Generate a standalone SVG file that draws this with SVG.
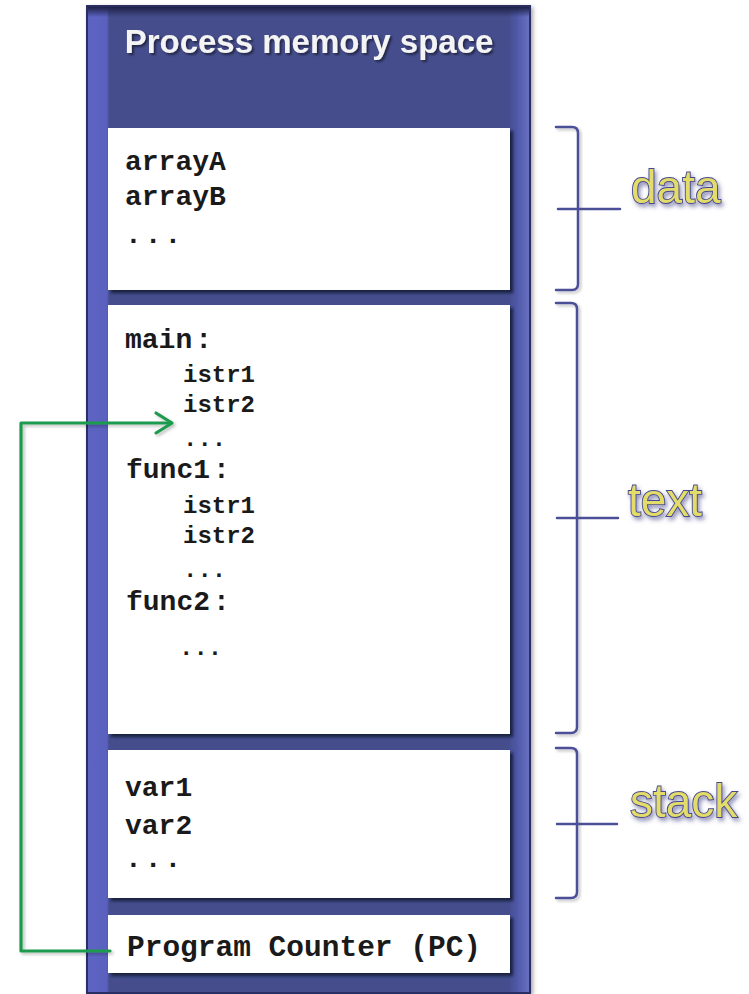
<svg xmlns="http://www.w3.org/2000/svg" width="749" height="994" viewBox="0 0 749 994">
<defs>
<filter id="boxsh" x="-5%" y="-5%" width="115%" height="115%"><feDropShadow dx="3" dy="3" stdDeviation="1.5" flood-color="#101330" flood-opacity="0.85"/></filter>
<filter id="panelsh" x="-5%" y="-5%" width="115%" height="110%"><feDropShadow dx="2" dy="2" stdDeviation="2" flood-color="#000000" flood-opacity="0.35"/></filter>
<filter id="txtsh" x="-10%" y="-20%" width="130%" height="150%"><feDropShadow dx="2" dy="2" stdDeviation="1.2" flood-color="#000000" flood-opacity="0.5"/></filter>
<filter id="lblsh" x="-10%" y="-20%" width="130%" height="160%"><feDropShadow dx="2" dy="3" stdDeviation="2" flood-color="#3a3a80" flood-opacity="0.55"/></filter>
<filter id="lnsh" x="-10%" y="-10%" width="130%" height="130%"><feDropShadow dx="2" dy="2" stdDeviation="1.5" flood-color="#000000" flood-opacity="0.25"/></filter>
<linearGradient id="panelg" x1="0" y1="0" x2="1" y2="0">
<stop offset="0" stop-color="#5c63c2"/>
<stop offset="0.045" stop-color="#5a61bd"/>
<stop offset="0.05" stop-color="#444d8c"/>
<stop offset="0.95" stop-color="#444d8c"/>
<stop offset="0.97" stop-color="#4e58a6"/>
<stop offset="1" stop-color="#6a72c4"/>
</linearGradient>
<linearGradient id="topg" x1="0" y1="0" x2="0" y2="1">
<stop offset="0" stop-color="#1d2146"/>
<stop offset="1" stop-color="#1d2146" stop-opacity="0"/>
</linearGradient>
</defs>
<style>
.code{font-family:"Courier New","Liberation Mono",monospace;font-weight:bold;fill:#1a1a1a;}
.big{font-size:28px;}
.small{font-size:24px;}
.box{fill:#ffffff;filter:url(#boxsh);}
.brace{fill:none;stroke:#4b4f98;stroke-width:2.5;stroke-linecap:round;stroke-linejoin:round;filter:url(#lnsh);}
.tick{fill:none;stroke:#4b4f98;stroke-width:2.5;stroke-linecap:round;}
.lbl{font-family:"Liberation Sans",Arial,sans-serif;font-size:46px;fill:#e4dc6a;stroke:#45488c;stroke-width:1.8;paint-order:stroke;filter:url(#lblsh);}
</style>
<g id="panel">
<rect x="87" y="6" width="443" height="987" fill="url(#panelg)" stroke="#2a2f62" stroke-width="2" filter="url(#panelsh)"/>
<rect x="88" y="7" width="441" height="10" fill="url(#topg)"/>
<text x="309" y="53" text-anchor="middle" font-family="Liberation Sans, Arial, sans-serif" font-weight="bold" font-size="33" fill="#f4f4f4" filter="url(#txtsh)">Process memory space</text>
</g>
<g id="data-box">
<rect class="box" x="108" y="128" width="402" height="162"/>
<text class="code big" x="125" y="170">arrayA</text>
<text class="code big" x="125" y="205">arrayB</text>
<text class="code big" x="125" y="243" letter-spacing="3">...</text>
</g>
<g id="text-box">
<rect class="box" x="108" y="305" width="402" height="429"/>
<text class="code big" x="125" y="348">main<tspan dx="3">:</tspan></text>
<text class="code small" x="183" y="382">istr1</text>
<text class="code small" x="183" y="412">istr2</text>
<text class="code small" x="183" y="446">...</text>
<text class="code big" x="126" y="478">func1<tspan dx="3">:</tspan></text>
<text class="code small" x="183" y="513">istr1</text>
<text class="code small" x="183" y="543">istr2</text>
<text class="code small" x="183" y="577">...</text>
<text class="code big" x="126" y="610">func2<tspan dx="3">:</tspan></text>
<text class="code small" x="179" y="655">...</text>
</g>
<g id="stack-box">
<rect class="box" x="108" y="750" width="402" height="148"/>
<text class="code big" x="125" y="796">var1</text>
<text class="code big" x="125" y="834">var2</text>
<text class="code big" x="125" y="867" letter-spacing="3">...</text>
</g>
<g id="pc-box">
<rect class="box" x="108" y="915" width="402" height="58"/>
<text class="code" x="127" y="956" font-size="29.5">Program Counter (PC)</text>
</g>
<g id="data-label">
<path class="brace" d="M556,127 H572 Q578,127 578,133 V284 Q578,290 572,290 H556"/>
<path class="tick" d="M558,209 H620"/>
<text class="lbl" x="631" y="203">data</text>
</g>
<g id="text-label">
<path class="brace" d="M556,303 H571 Q577,303 577,309 V727 Q577,733 571,733 H556"/>
<path class="tick" d="M557,518 H618"/>
<text class="lbl" x="628" y="516">text</text>
</g>
<g id="stack-label">
<path class="brace" d="M556,748 H571 Q577,748 577,754 V892 Q577,898 571,898 H556"/>
<path class="tick" d="M557,824 H617"/>
<text class="lbl" x="630" y="817">stack</text>
</g>
<g id="connectors" fill="none" stroke="#1f9a4e" stroke-width="3.2" stroke-linecap="round" stroke-linejoin="round" filter="url(#lnsh)">
<path d="M110,951 H21 V423 H171"/>
<path d="M156,413 L172,423 L156,433"/>
</g>
</svg>
